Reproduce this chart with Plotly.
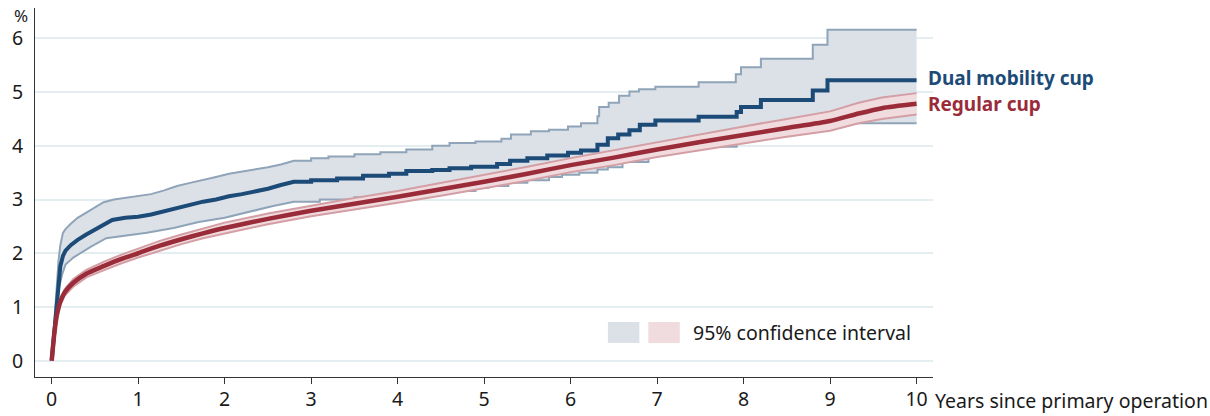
import plotly.graph_objects as go

# ---------------- data ----------------
dual_x = [0, 0.02, 0.04, 0.06, 0.08, 0.10, 0.13, 0.16, 0.22, 0.30, 0.40, 0.50, 0.60, 0.70, 0.85,
          1.00, 1.15, 1.30, 1.45, 1.60, 1.75, 1.90, 2.05, 2.20, 2.35, 2.50, 2.65, 2.80, 3.00, 3.30,
          3.60, 3.90, 4.10, 4.40, 4.60, 4.85, 5.15, 5.30, 5.50, 5.73, 5.97, 6.12, 6.31, 6.43, 6.55,
          6.68, 6.80, 6.98, 7.48, 7.92, 7.97, 8.20, 8.80, 8.97, 10.0]
dual_y = [0, 0.35, 0.75, 1.15, 1.50, 1.76, 1.95, 2.05, 2.15, 2.25, 2.35, 2.44, 2.55, 2.62, 2.66,
          2.68, 2.72, 2.78, 2.84, 2.90, 2.96, 3.00, 3.06, 3.10, 3.15, 3.20, 3.27, 3.33, 3.36, 3.39,
          3.44, 3.48, 3.53, 3.55, 3.58, 3.61, 3.66, 3.72, 3.77, 3.82, 3.87, 3.91, 4.02, 4.14, 4.21,
          4.29, 4.39, 4.47, 4.54, 4.63, 4.72, 4.85, 5.03, 5.22, 5.22]

dual_up_x = [0, 0.02, 0.04, 0.06, 0.08, 0.10, 0.13, 0.16, 0.22, 0.30, 0.40, 0.50, 0.60, 0.72, 0.85,
             1.00, 1.15, 1.30, 1.45, 1.60, 1.75, 1.90, 2.05, 2.20, 2.35, 2.50, 2.65, 2.80, 3.00, 3.20,
             3.50, 3.80, 4.10, 4.40, 4.60, 4.90, 5.20, 5.31, 5.54, 5.75, 5.97, 6.12, 6.31, 6.33, 6.44,
             6.56, 6.68, 6.79, 6.98, 7.48, 7.91, 7.97, 8.20, 8.80, 8.97, 10.0]
dual_up_y = [0, 0.45, 0.95, 1.45, 1.88, 2.15, 2.38, 2.45, 2.55, 2.66, 2.76, 2.85, 2.95, 3.00, 3.03,
             3.06, 3.10, 3.17, 3.25, 3.31, 3.36, 3.42, 3.48, 3.52, 3.55, 3.60, 3.65, 3.72, 3.77, 3.80,
             3.84, 3.88, 3.93, 4.00, 4.05, 4.08, 4.13, 4.21, 4.27, 4.30, 4.36, 4.42, 4.55, 4.72, 4.80,
             4.93, 5.01, 5.05, 5.10, 5.18, 5.33, 5.46, 5.62, 5.88, 6.16, 6.16]

dual_lo_x = [0, 0.02, 0.04, 0.06, 0.08, 0.12, 0.16, 0.25, 0.33, 0.45, 0.63, 0.86, 1.10, 1.41, 1.70,
             2.00, 2.30, 2.56, 2.80, 3.10, 3.50, 4.00, 4.50, 4.90, 5.05, 5.28, 5.50, 5.75, 5.90, 6.10,
             6.31, 6.43, 6.60, 6.90, 7.10, 7.28, 7.92, 8.30, 8.65, 10.0]
dual_lo_y = [0, 0.25, 0.50, 0.90, 1.32, 1.60, 1.79, 1.92, 2.00, 2.12, 2.28, 2.33, 2.38, 2.47, 2.58,
             2.66, 2.78, 2.88, 2.96, 3.00, 3.04, 3.10, 3.16, 3.22, 3.25, 3.31, 3.36, 3.42, 3.46, 3.50,
             3.56, 3.60, 3.70, 3.85, 3.92, 3.98, 4.15, 4.30, 4.42, 4.42]

reg_x = [0, 0.03, 0.06, 0.10, 0.15, 0.25, 0.40, 0.60, 0.80, 1.00, 1.25, 1.50, 1.75, 2.00, 2.50,
         3.00, 3.50, 4.00, 4.50, 5.00, 5.50, 6.00, 6.50, 7.00, 7.50, 8.00, 8.50, 9.00, 9.33, 9.60, 10.0]
reg_y = [0, 0.50, 0.85, 1.10, 1.27, 1.45, 1.62, 1.76, 1.89, 2.00, 2.14, 2.26, 2.37, 2.47, 2.64,
         2.79, 2.92, 3.05, 3.19, 3.33, 3.48, 3.64, 3.78, 3.93, 4.07, 4.20, 4.33, 4.46, 4.60, 4.70, 4.78]
reg_up = [0, 0.54, 0.91, 1.16, 1.33, 1.52, 1.69, 1.84, 1.97, 2.08, 2.23, 2.35, 2.46, 2.57, 2.74,
          2.89, 3.03, 3.16, 3.31, 3.45, 3.61, 3.77, 3.92, 4.07, 4.22, 4.36, 4.50, 4.64, 4.80, 4.90, 4.98]
reg_lo = [0, 0.46, 0.79, 1.04, 1.21, 1.38, 1.55, 1.68, 1.81, 1.92, 2.05, 2.17, 2.28, 2.37, 2.54,
          2.69, 2.81, 2.94, 3.07, 3.21, 3.35, 3.51, 3.64, 3.79, 3.92, 4.04, 4.17, 4.28, 4.42, 4.50, 4.58]

x_ticks = [0, 1, 2, 3, 4, 5, 6, 7, 8, 9, 10]
y_ticks = [0, 1, 2, 3, 4, 5, 6]
series_names = ["Dual mobility cup", "Regular cup"]
ci_label = "95% confidence interval"
x_title = "Years since primary operation"

# ---------------- styles ----------------
FONT = "Noto Sans"
FS = 19.5
FSB = 19
DUAL = "#1c4b78"
DUAL_EDGE = "#8fa4b8"
DUAL_FILL = "#dce1e8"
REG = "#9a2c3a"
REG_EDGE = "#d49ea5"
REG_FILL = "#f0dbde"
GRID = "#e4eef1"
TXT = "#1a1a1a"
STEP_FROM = 2.8  # Kaplan-Meier steps become coarse (visible) after this time


def km_path(xs, ys):
    """Step path: smooth where events are dense, stair-steps where they are sparse."""
    px, py = [xs[0]], [ys[0]]
    for i in range(1, len(xs)):
        if xs[i] > STEP_FROM:
            px.append(xs[i]); py.append(ys[i - 1])
        px.append(xs[i]); py.append(ys[i])
    return px, py


dlx, dly = km_path(dual_lo_x, dual_lo_y)
dux, duy = km_path(dual_up_x, dual_up_y)
dmx, dmy = km_path(dual_x, dual_y)

fig = go.Figure()

# Dual mobility CI band + line
fig.add_trace(go.Scatter(x=dlx, y=dly, mode="lines", line=dict(color=DUAL_EDGE, width=2),
                         hoverinfo="skip", showlegend=False))
fig.add_trace(go.Scatter(x=dux, y=duy, mode="lines", line=dict(color=DUAL_EDGE, width=2),
                         fill="tonexty", fillcolor=DUAL_FILL, hoverinfo="skip", showlegend=False))
fig.add_trace(go.Scatter(x=dmx, y=dmy, mode="lines", line=dict(color=DUAL, width=4),
                         name=series_names[0], showlegend=False))

# Regular cup CI band + line
fig.add_trace(go.Scatter(x=reg_x, y=reg_lo, mode="lines", line=dict(color=REG_EDGE, width=2),
                         hoverinfo="skip", showlegend=False))
fig.add_trace(go.Scatter(x=reg_x, y=reg_up, mode="lines", line=dict(color=REG_EDGE, width=2),
                         fill="tonexty", fillcolor=REG_FILL, hoverinfo="skip", showlegend=False))
fig.add_trace(go.Scatter(x=reg_x, y=reg_y, mode="lines", line=dict(color=REG, width=4.5, shape="spline", smoothing=0.6),
                         name=series_names[1], showlegend=False))

# end labels
fig.add_annotation(x=dual_x[-1], y=dual_y[-1], text="<b>%s</b>" % series_names[0], showarrow=False,
                   xanchor="left", yanchor="middle", xshift=9, yshift=2,
                   font=dict(family=FONT, size=FSB, color=DUAL))
fig.add_annotation(x=reg_x[-1], y=reg_y[-1], text="<b>%s</b>" % series_names[1], showarrow=False,
                   xanchor="left", yanchor="middle", xshift=9, yshift=0,
                   font=dict(family=FONT, size=FSB, color=REG))

# CI legend
fig.add_shape(type="rect", xref="paper", yref="paper", x0=0.638, x1=0.673, y0=0.092, y1=0.149,
              fillcolor=DUAL_FILL, line=dict(width=0))
fig.add_shape(type="rect", xref="paper", yref="paper", x0=0.683, x1=0.718, y0=0.092, y1=0.149,
              fillcolor=REG_FILL, line=dict(width=0))
fig.add_annotation(xref="paper", yref="paper", x=0.731, y=0.12, text=ci_label, showarrow=False,
                   xanchor="left", yanchor="middle", font=dict(family=FONT, size=FS, color=TXT))

# axis titles
fig.add_annotation(xref="paper", yref="paper", x=1.0, y=0, text=x_title, showarrow=False,
                   xanchor="left", yanchor="middle", yshift=-23, xshift=0,
                   font=dict(family=FONT, size=FS, color=TXT))
fig.add_annotation(xref="paper", yref="paper", x=-0.016, y=1.0, text="%", showarrow=False,
                   xanchor="center", yanchor="top", yshift=6,
                   font=dict(family=FONT, size=17, color=TXT))

fig.update_layout(
    width=1210, height=416,
    margin=dict(l=35, r=277, t=8, b=39, autoexpand=False),
    paper_bgcolor="white", plot_bgcolor="white",
    font=dict(family=FONT, size=FS, color=TXT),
    showlegend=False,
)
fig.update_xaxes(range=[-0.193, 10.19], tickvals=x_ticks, showgrid=False, zeroline=False, automargin=False,
                 showline=True, linecolor="#333333", linewidth=1,
                 ticks="outside", ticklen=6, tickcolor="#333333", tickwidth=1, ticklabelstandoff=-1,
                 tickfont=dict(family=FONT, size=FS, color=TXT))
fig.update_yaxes(range=[-0.303, 6.564], tickvals=y_ticks, showgrid=True, gridcolor=GRID, gridwidth=2,
                 zeroline=False, automargin=False, showline=True, linecolor="#333333", linewidth=1, ticks="",
                 ticklabelstandoff=7, tickfont=dict(family=FONT, size=FS, color=TXT))

fig.write_html("out.html", config={"displayModeBar": False},
               post_script="document.body.style.margin='0px';")
